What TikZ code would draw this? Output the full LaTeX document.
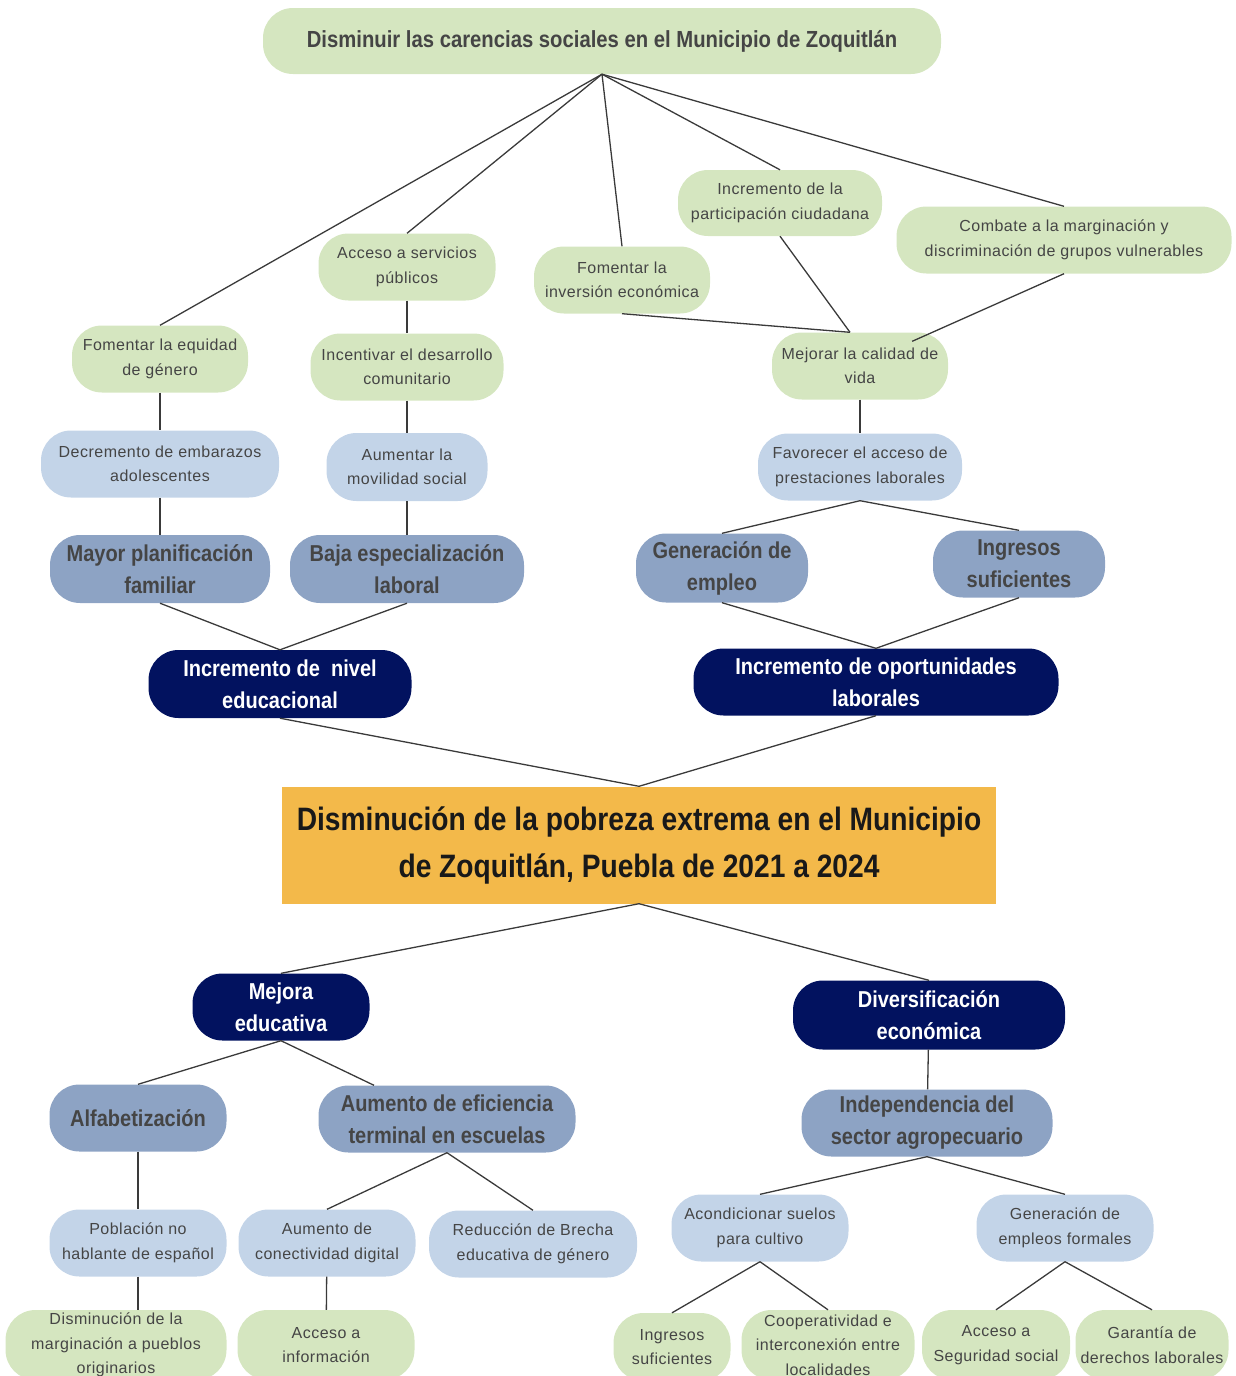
\documentclass[tikz,border=0pt]{standalone}
\usepackage{fontspec}
\setmainfont{Liberation Sans}[LetterSpace=3]
\newfontfamily\cb{Liberation Sans}[FakeStretch=0.87]
\usetikzlibrary{calc}
\definecolor{cgreen}{HTML}{D5E6C0}
\definecolor{clblue}{HTML}{C3D4E8}
\definecolor{cmblue}{HTML}{8DA3C4}
\definecolor{cnavy}{HTML}{02125F}
\definecolor{corange}{HTML}{F3B94A}
\definecolor{txt}{HTML}{454545}
\definecolor{cline}{HTML}{3A3A3A}
\tikzset{
  base/.style={rounded corners=30pt, inner sep=0pt, align=center, text=txt},
  gr/.style={base, fill=cgreen, font=\fontsize{16}{24.5}\selectfont},
  lb/.style={base, fill=clblue, font=\fontsize{16}{24.5}\selectfont},
  mb/.style={base, fill=cmblue, font=\cb\bfseries\fontsize{23}{32}\selectfont},
  nv/.style={base, fill=cnavy, text=white, font=\cb\bfseries\fontsize{23}{32}\selectfont},
  sz/.style 2 args={minimum width=#1pt, minimum height=#2pt},
  conn/.style={draw=cline, line width=1.3pt},
}
\begin{document}
\begin{tikzpicture}[x=1pt,y=-1pt]
\useasboundingbox (0,0) rectangle (1236,1376);
% top
\node[gr, sz={678}{66}, font=\cb\bfseries\fontsize{23.3}{27}\selectfont] (title) at (602,41) {Disminuir las carencias sociales en el Municipio de Zoquitlán};
\node[gr, sz={177}{67}] (acc) at (407,267) {Acceso a servicios\\públicos};
\node[gr, sz={176}{67}] (inv) at (622,280) {Fomentar la\\inversión económica};
\node[gr, sz={204}{66}] (par) at (780,203) {Incremento de la\\participación ciudadana};
\node[gr, sz={335}{67}] (com) at (1064,240) {Combate a la marginación y\\discriminación de grupos vulnerables};
\node[gr, sz={176}{67}] (equ) at (160,359) {Fomentar la equidad\\de género};
\node[gr, sz={193}{67}] (inc) at (407,367) {Incentivar el desarrollo\\comunitario};
\node[gr, sz={176}{67}] (mej) at (860,366) {Mejorar la calidad de\\vida};
\node[lb, sz={238}{67}] (dec) at (160,464) {Decremento de embarazos\\adolescentes};
\node[lb, sz={161}{68}] (mov) at (407,467) {Aumentar la\\movilidad social};
\node[lb, sz={204}{67}] (fav) at (860,467) {Favorecer el acceso de\\prestaciones laborales};
\node[mb, sz={220}{68}] (may) at (160,569) {Mayor planificación\\familiar};
\node[mb, sz={234}{68}] (baj) at (407,569) {Baja especialización\\laboral};
\node[mb, sz={172}{69}] (gen) at (722,568) {Generación de\\empleo};
\node[mb, sz={172}{67}] (ing) at (1019,564) {Ingresos\\suficientes};
\node[nv, sz={263}{68}] (niv) at (280,684) {Incremento de\ \ nivel\\educacional};
\node[nv, sz={365}{67}] (opo) at (876,682) {Incremento de oportunidades\\laborales};
\node[fill=corange, sz={714}{117}, inner sep=0pt, align=center, text=black!90, font=\cb\bfseries\fontsize{32.4}{47}\selectfont] (cen) at (639,845) {Disminución de la pobreza extrema en el Municipio\\de Zoquitlán, Puebla de 2021 a 2024};
% bottom
\node[nv, sz={177}{67}] (mjr) at (281,1007) {Mejora\\educativa};
\node[nv, sz={272}{69}] (div) at (929,1015) {Diversificación\\económica};
\node[mb, sz={177}{67}] (alf) at (138,1118) {Alfabetización};
\node[mb, sz={257}{67}] (efi) at (447,1119) {Aumento de eficiencia\\terminal en escuelas};
\node[mb, sz={251}{67}] (ind) at (927,1123) {Independencia del\\sector agropecuario};
\node[lb, sz={177}{67}] (pob) at (138,1243) {Población no\\hablante de español};
\node[lb, sz={177}{67}] (con) at (327,1243) {Aumento de\\conectividad digital};
\node[lb, sz={208}{67}] (bre) at (533,1244) {Reducción de Brecha\\educativa de género};
\node[lb, sz={177}{67}] (aco) at (760,1228) {Acondicionar suelos\\para cultivo};
\node[lb, sz={177}{67}] (gef) at (1065,1228) {Generación de\\empleos formales};
\node[gr, sz={221}{70}] (dis) at (116,1345) {Disminución de la\\marginación a pueblos\\originarios};
\node[gr, sz={177}{70}] (inf) at (326,1345) {Acceso a\\información};
\node[gr, sz={117}{68}] (ings) at (672,1347) {Ingresos\\suficientes};
\node[gr, sz={173}{70}] (coo) at (828,1345) {Cooperatividad e\\interconexión entre\\localidades};
\node[gr, sz={148}{70}] (seg) at (996,1345) {Acceso a\\Seguridad social};
\node[gr, sz={153}{70}] (gar) at (1152,1345) {Garantía de\\derechos laborales};
% connector end points
\coordinate (mejA) at ($(mej.north)+(-10,0)$);
\coordinate (mejB) at ($(mej.north east)+(-36,9)$);
\coordinate (efiA) at ($(efi.north)+(-73,0)$);
% connectors
\draw[conn] (title.south) -- (equ.north);
\draw[conn] (title.south) -- (acc.north);
\draw[conn] (title.south) -- (inv.north);
\draw[conn] (title.south) -- (par.north);
\draw[conn] (title.south) -- (com.north);
\draw[conn] (acc) -- (inc);
\draw[conn] (inc) -- (mov);
\draw[conn] (mov) -- (baj);
\draw[conn] (equ) -- (dec);
\draw[conn] (dec) -- (may);
\draw[conn] (inv.south) -- (mejA);
\draw[conn] (par.south) -- (mejA);
\draw[conn] (com.south) -- (mejB);
\draw[conn] (mej) -- (fav);
\draw[conn] (fav.south) -- (gen.north);
\draw[conn] (fav.south) -- (ing.north);
\draw[conn] (may.south) -- (niv.north);
\draw[conn] (baj.south) -- (niv.north);
\draw[conn] (gen.south) -- (opo.north);
\draw[conn] (ing.south) -- (opo.north);
\draw[conn] (niv.south) -- (cen.north);
\draw[conn] (opo.south) -- (cen.north);
\draw[conn] (cen.south) -- (mjr.north);
\draw[conn] (cen.south) -- (div.north);
\draw[conn] (mjr.south) -- (alf.north);
\draw[conn] (mjr.south) -- (efiA);
\draw[conn] (alf) -- (pob);
\draw[conn] (pob.south) -- (pob.south |- dis.north);
\draw[conn] (efi.south) -- (con.north);
\draw[conn] (efi.south) -- (bre.north);
\draw[conn] (con) -- (inf);
\draw[conn] (div) -- (ind);
\draw[conn] (ind.south) -- (aco.north);
\draw[conn] (ind.south) -- (gef.north);
\draw[conn] (aco.south) -- (ings.north);
\draw[conn] (aco.south) -- (coo.north);
\draw[conn] (gef.south) -- (seg.north);
\draw[conn] (gef.south) -- (gar.north);
\end{tikzpicture}
\end{document}
